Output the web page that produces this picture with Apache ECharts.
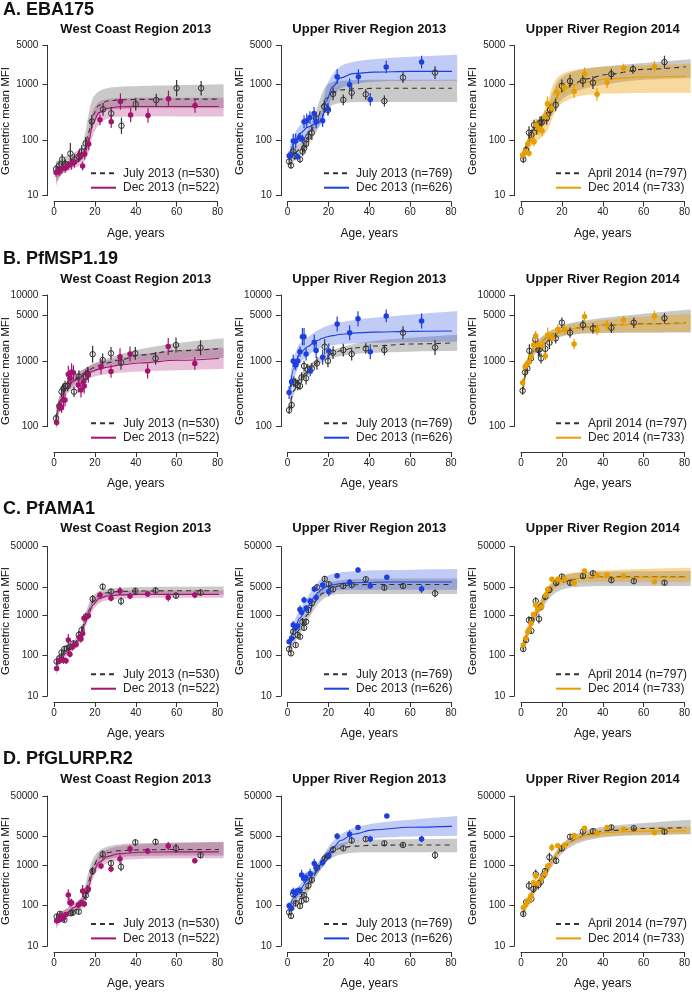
<!DOCTYPE html>
<html>
<head>
<meta charset="utf-8">
<script src="https://cdn.jsdelivr.net/npm/echarts@6/dist/echarts.min.js"></script>
<style>
  html, body { margin: 0; padding: 0; background: #fff; }
  #chart { width: 692px; height: 992px; }
</style>
</head>
<body>
<div id="chart"></div>
<script>
// ages at which the fitted curves and their intervals are read
const fitAges = [1, 3, 6, 10, 13, 15, 17, 19, 22, 26, 32, 42, 60, 83];

// points are [age, geometric mean MFI, error factor]
// ---- A. EBA175 ----
const ebaWcJulPts = [[1,30,1.2],[2.5,35,1.2],[4,45,1.25],[5.5,37,1.2],[8,57,1.55],[10,45,1.25],[12,50,1.25],[13.5,62,1.3],[15.5,87,1.3],[18.5,215,1.3],[24,355,1.3],[28,300,1.3],[33,180,1.4],[40,440,1.3],[50,520,1.3],[60,850,1.4],[72,850,1.35]];
const ebaWcJulFit = [28, 33, 40, 46, 55, 70, 140, 280, 420, 500, 525, 535, 540, 540];
const ebaWcJulLo = [18, 22, 30, 36, 42, 50, 80, 170, 280, 340, 360, 370, 370, 370];
const ebaWcJulHi = [42, 45, 52, 60, 72, 120, 300, 560, 750, 850, 900, 930, 960, 1000];
const ebaWcDecPts = [[1,26,1.2],[2.5,27,1.2],[4,31,1.2],[5.5,31,1.2],[7,35,1.2],[8.5,37,1.25],[10,40,1.25],[12.5,54,1.3],[14,34,1.2],[15,56,1.25],[17,85,1.3],[22.5,230,1.25],[28,213,1.3],[32.5,490,1.4],[37.5,280,1.35],[46,275,1.35],[56,550,1.4],[69,415,1.35]];
const ebaWcDecFit = [25, 29, 33, 38, 45, 55, 95, 200, 310, 370, 395, 400, 400, 400];
const ebaWcDecLo = [15, 22, 27, 31, 36, 42, 60, 120, 190, 240, 260, 265, 265, 265];
const ebaWcDecHi = [38, 38, 40, 46, 55, 75, 160, 330, 480, 540, 560, 570, 570, 570];

const ebaUr13JulPts = [[0.8,41,1.15],[1.7,35,1.15],[2.8,62,1.2],[3.6,52,1.2],[6.1,45,1.15],[7.4,62,1.2],[8.1,71,1.2],[9.1,85,1.2],[10.2,115,1.25],[11.9,135,1.35],[14,245,1.3],[18,400,1.3],[19.8,345,1.25],[22.3,670,1.3],[27.3,525,1.25],[31.4,705,1.3],[38.3,660,1.25],[47.4,500,1.25],[56.5,1320,1.25],[72.2,1620,1.3]];
const ebaUr13JulFit = [45, 55, 68, 110, 175, 260, 420, 560, 700, 790, 830, 845, 850, 850];
const ebaUr13JulLo = [30, 42, 52, 80, 120, 160, 260, 330, 420, 460, 475, 480, 480, 480];
const ebaUr13JulHi = [60, 72, 90, 150, 260, 430, 700, 950, 1100, 1150, 1180, 1200, 1200, 1200];
const ebaUr13DecPts = [[0.8,52,1.2],[1.7,54,1.2],[2.8,96,1.35],[4,96,1.35],[5,50,1.15],[6.1,110,1.2],[7.3,104,1.2],[8.1,213,1.3],[9.4,222,1.35],[11,253,1.3],[13,300,1.3],[14,213,1.3],[17.2,222,1.3],[19.8,360,1.3],[24.3,1370,1.35],[30.4,980,1.3],[34.7,1370,1.35],[40.5,535,1.3],[48.3,2040,1.3],[65.6,2500,1.3]];
const ebaUr13DecFit = [52, 85, 130, 170, 190, 200, 250, 500, 900, 1300, 1550, 1650, 1700, 1700];
const ebaUr13DecLo = [35, 60, 95, 130, 150, 165, 200, 320, 580, 850, 1000, 1100, 1150, 1150];
const ebaUr13DecHi = [75, 120, 180, 230, 250, 280, 400, 900, 1500, 2100, 2500, 2800, 3100, 3400];

const ebaUr14AprPts = [[1.1,45,1.15],[2.5,66,1.2],[3.9,135,1.3],[5.1,123,1.25],[6.4,185,1.25],[7.7,162,1.3],[9.3,205,1.3],[10.1,205,1.3],[12.6,245,1.3],[14.2,345,1.3],[17,425,1.3],[20,935,1.3],[24,1140,1.3],[30.3,1150,1.3],[35.2,1070,1.3],[44.2,1520,1.25],[54.8,1860,1.2],[70.2,2500,1.3]];
const ebaUr14AprFit = [45, 80, 150, 215, 280, 400, 560, 720, 880, 1050, 1250, 1500, 1850, 2100];
const ebaUr14AprLo = [35, 65, 115, 170, 210, 280, 380, 480, 600, 720, 850, 1000, 1200, 1300];
const ebaUr14AprHi = [60, 100, 190, 270, 380, 650, 950, 1250, 1500, 1700, 1900, 2100, 2400, 2800];
const ebaUr14DecPts = [[0.8,54,1.15],[2,62,1.15],[3.3,85,1.2],[3.9,58,1.15],[5.4,100,1.2],[6.4,93,1.2],[7.4,185,1.3],[8.8,162,1.3],[10.3,147,1.25],[11.8,260,1.3],[12.9,445,1.35],[15,370,1.3],[17.5,720,1.3],[21.1,870,1.25],[26,740,1.3],[31.1,1540,1.3],[37.2,660,1.3],[42.1,1070,1.25],[50.2,1950,1.2],[65.3,2080,1.25]];
const ebaUr14DecFit = [50, 75, 120, 180, 270, 400, 560, 700, 850, 980, 1100, 1250, 1350, 1400];
const ebaUr14DecLo = [40, 55, 85, 110, 150, 230, 330, 420, 500, 580, 640, 680, 700, 700];
const ebaUr14DecHi = [62, 100, 170, 270, 480, 850, 1200, 1450, 1650, 1800, 1950, 2100, 2200, 2300];

// ---- B. PfMSP1.19 ----
const mspWcJulPts = [[1,134,1.15],[2.6,206,1.2],[3.7,340,1.2],[4.6,380,1.2],[5.4,415,1.2],[6.7,415,1.2],[9.8,340,1.2],[12.2,575,1.25],[15.6,575,1.25],[16.3,645,1.25],[18.9,1260,1.35],[23.8,1030,1.25],[27.9,1300,1.25],[32.8,950,1.3],[39.8,1300,1.25],[49.7,1090,1.25],[59.7,1740,1.3],[71.7,1580,1.3]];
const mspWcJulFit = [135, 250, 400, 520, 600, 660, 720, 780, 850, 930, 1030, 1230, 1420, 1550];
const mspWcJulLo = [100, 200, 330, 440, 510, 560, 610, 660, 720, 790, 870, 960, 1050, 1100];
const mspWcJulHi = [180, 320, 480, 610, 700, 760, 830, 900, 990, 1090, 1250, 1500, 1850, 2200];
const mspWcDecPts = [[1.3,116,1.12],[2.9,206,1.2],[3.7,194,1.2],[4.6,254,1.25],[5.4,254,1.25],[7,624,1.35],[7.8,540,1.3],[8.6,680,1.35],[9.5,660,1.3],[11.9,430,1.3],[13.2,360,1.3],[14.3,480,1.3],[14.8,415,1.3],[16.8,610,1.3],[23,815,1.3],[27.9,690,1.25],[32.3,1150,1.35],[37.2,1270,1.3],[45.8,700,1.3],[55.9,1650,1.35],[68.9,915,1.25]];
const mspWcDecFit = [120, 230, 380, 500, 570, 620, 660, 700, 750, 800, 860, 930, 1020, 1100];
const mspWcDecLo = [85, 180, 300, 400, 460, 500, 540, 570, 600, 630, 660, 690, 720, 760];
const mspWcDecHi = [170, 300, 470, 620, 700, 760, 820, 880, 940, 1010, 1100, 1250, 1450, 1600];

const mspUr13JulPts = [[0.8,179,1.15],[2,213,1.15],[3.1,482,1.2],[4,455,1.2],[5,430,1.2],[6.1,415,1.15],[6.9,560,1.2],[8.1,835,1.2],[9.1,545,1.25],[9.9,745,1.2],[11.9,770,1.2],[14.4,915,1.25],[18.2,1640,1.3],[19.8,995,1.25],[22.3,1330,1.25],[27.3,1460,1.25],[31.4,1270,1.25],[38.3,1540,1.2],[47.4,1460,1.2],[56.5,2680,1.25],[72.2,1600,1.3]];
const mspUr13JulFit = [180, 350, 520, 720, 880, 990, 1100, 1180, 1300, 1420, 1560, 1680, 1800, 1880];
const mspUr13JulLo = [150, 300, 460, 640, 780, 870, 950, 1020, 1100, 1180, 1260, 1330, 1380, 1420];
const mspUr13JulHi = [220, 410, 600, 830, 1000, 1110, 1230, 1330, 1460, 1600, 1780, 2000, 2250, 2500];
const mspUr13DecPts = [[0.8,330,1.25],[2,482,1.2],[2.8,995,1.25],[4,865,1.2],[5,995,1.2],[6.1,1380,1.2],[7.3,2330,1.35],[8.1,2330,1.35],[9.1,1270,1.25],[11.1,700,1.2],[13.1,1910,1.3],[14,1430,1.3],[17.2,1130,1.3],[20.2,1410,1.3],[24.3,3630,1.3],[30.4,2680,1.3],[34.5,4350,1.3],[40.5,1380,1.3],[48.3,4800,1.25],[65.6,4030,1.3]];
const mspUr13DecFit = [320, 750, 1300, 1650, 1900, 2050, 2200, 2300, 2420, 2530, 2640, 2730, 2800, 2840];
const mspUr13DecLo = [200, 480, 900, 1200, 1400, 1500, 1580, 1650, 1720, 1780, 1830, 1880, 1920, 1950];
const mspUr13DecHi = [500, 1100, 1800, 2300, 2700, 2950, 3150, 3350, 3600, 3850, 4150, 4500, 5000, 5700];

const mspUr14AprPts = [[0.8,352,1.15],[2,670,1.2],[3.1,770,1.2],[4.1,1425,1.25],[4.9,1090,1.2],[7,2100,1.25],[8.5,1460,1.25],[9,1490,1.25],[9.8,1090,1.2],[11.9,1520,1.25],[13.9,1890,1.25],[17,2200,1.2],[20,3800,1.2],[24,2680,1.2],[30.3,3500,1.2],[35.2,3100,1.2],[44.2,3180,1.2],[55.2,3800,1.2],[70.2,4450,1.2]];
const mspUr14AprFit = [370, 850, 1400, 1950, 2300, 2480, 2620, 2760, 2920, 3100, 3300, 3500, 3650, 3750];
const mspUr14AprLo = [300, 680, 1150, 1600, 1900, 2050, 2180, 2300, 2420, 2520, 2600, 2650, 2680, 2700];
const mspUr14AprHi = [460, 1050, 1700, 2300, 2700, 2950, 3150, 3350, 3600, 3850, 4150, 4550, 5200, 6000];
const mspUr14DecPts = [[0.8,466,1.15],[2,815,1.15],[3.1,915,1.15],[3.9,960,1.15],[4.9,1150,1.15],[6.1,1740,1.2],[7.2,2380,1.2],[8.2,1740,1.2],[10.6,1690,1.2],[11.9,1180,1.15],[13.1,2460,1.3],[15.1,2200,1.25],[18,3000,1.2],[21.3,3000,1.2],[26,1800,1.2],[31.1,4700,1.2],[37.2,2940,1.2],[42.1,3500,1.2],[50.2,4170,1.15],[65.3,4800,1.2]];
const mspUr14DecFit = [400, 870, 1420, 1950, 2300, 2480, 2620, 2760, 2920, 3100, 3300, 3480, 3620, 3700];
const mspUr14DecLo = [320, 700, 1180, 1650, 1950, 2100, 2230, 2350, 2480, 2580, 2650, 2700, 2720, 2740];
const mspUr14DecHi = [480, 1050, 1650, 2250, 2650, 2880, 3050, 3220, 3420, 3650, 3900, 4250, 4700, 5200];

// ---- C. PfAMA1 ----
const amaWcJulPts = [[1.3,71,1.15],[2.6,86,1.15],[3.7,120,1.15],[5.1,146,1.15],[6.2,152,1.15],[7.8,166,1.2],[9.5,200,1.2],[12.1,325,1.25],[13.5,430,1.25],[15.6,925,1.25],[18.9,2530,1.25],[23.8,5100,1.2],[27.9,3850,1.2],[32.8,2230,1.25],[39.8,4000,1.2],[49.7,4100,1.2],[59.7,3070,1.2],[71.7,3650,1.2]];
const amaWcJulFit = [65, 95, 140, 200, 330, 700, 1300, 2200, 3100, 3600, 3900, 4000, 4050, 4050];
const amaWcJulLo = [45, 75, 115, 165, 260, 520, 950, 1600, 2300, 2800, 3100, 3200, 3250, 3250];
const amaWcJulHi = [90, 120, 170, 245, 430, 1000, 1900, 3000, 4000, 4500, 4800, 5000, 5100, 5200];
const amaWcDecPts = [[1.3,48,1.15],[2.6,74,1.2],[3.4,78,1.2],[4.6,78,1.25],[5.9,75,1.2],[7,245,1.4],[7.8,108,1.2],[9.1,167,1.25],[10.8,190,1.2],[12.4,280,1.2],[13.2,260,1.25],[14,355,1.25],[14.7,840,1.25],[16.8,970,1.2],[22.5,3170,1.2],[27.9,2630,1.2],[32.3,4000,1.25],[37.2,3000,1.2],[45.8,3380,1.2],[55.9,2750,1.25],[68.9,3170,1.2]];
const amaWcDecFit = [50, 80, 115, 175, 280, 600, 1100, 1800, 2600, 3000, 3200, 3300, 3300, 3300];
const amaWcDecLo = [32, 62, 95, 145, 220, 450, 800, 1300, 1950, 2350, 2550, 2650, 2700, 2700];
const amaWcDecHi = [72, 100, 140, 210, 360, 820, 1500, 2400, 3400, 3800, 4000, 4100, 4100, 4100];

const amaUr13JulPts = [[0.8,146,1.15],[1.7,114,1.15],[2.8,390,1.2],[4,183,1.15],[5,325,1.2],[6.1,295,1.15],[7.3,690,1.25],[8.1,490,1.2],[9.1,690,1.2],[10.2,1350,1.2],[11.9,1990,1.2],[14.4,4900,1.2],[18.2,7900,1.2],[20.2,5900,1.2],[22.3,4400,1.2],[27.3,5300,1.15],[31.4,5600,1.15],[38.3,7800,1.15],[47.4,4800,1.15],[56.5,5300,1.15],[72.2,3500,1.25]];
const amaUr13JulFit = [150, 260, 450, 1050, 2000, 2800, 3500, 4100, 5000, 5400, 5700, 5800, 5800, 5800];
const amaUr13JulLo = [100, 190, 330, 750, 1400, 1900, 2400, 2850, 3200, 3300, 3350, 3350, 3350, 3350];
const amaUr13JulHi = [230, 350, 600, 1500, 2900, 4000, 5000, 5800, 6800, 7400, 7800, 8000, 8100, 8200];
const amaUr13DecPts = [[0.8,222,1.15],[2,270,1.15],[2.8,575,1.25],[4,490,1.2],[5,540,1.2],[6.1,1400,1.25],[6.9,1180,1.2],[8.1,2400,1.2],[9.1,1490,1.2],[11.1,2250,1.2],[13.1,4450,1.2],[14,2740,1.2],[17.2,5600,1.2],[20.2,3830,1.3],[24.3,9600,1.15],[30.4,6600,1.2],[34.5,13300,1.15],[40.5,5400,1.2],[48.6,8700,1.15],[65.6,4450,1.25]];
const amaUr13DecFit = [200, 400, 850, 1700, 2800, 3700, 4500, 5100, 5700, 6100, 6400, 6600, 6700, 6700];
const amaUr13DecLo = [130, 280, 600, 1200, 1950, 2500, 3100, 3600, 4000, 4200, 4300, 4300, 4300, 4300];
const amaUr13DecHi = [300, 650, 1400, 2900, 5000, 6800, 8200, 9300, 10500, 11500, 12300, 13000, 13500, 14000];

const amaUr14AprPts = [[1.1,146,1.15],[2.5,245,1.2],[3.9,760,1.25],[5.1,760,1.2],[5,410,1.2],[7.2,2250,1.25],[8.8,810,1.3],[9.8,1630,1.25],[11.9,2870,1.2],[13.9,4230,1.2],[17.2,6400,1.15],[20,9100,1.15],[24,6400,1.15],[30.3,9400,1.15],[35.2,11000,1.15],[44.2,7400,1.15],[55.2,7000,1.15],[70.2,6400,1.15]];
const amaUr14AprFit = [150, 330, 800, 1900, 3300, 4400, 5400, 6200, 7000, 7900, 8500, 8900, 9000, 9000];
const amaUr14AprLo = [110, 250, 600, 1400, 2300, 3000, 3600, 4100, 4600, 5000, 5200, 5300, 5300, 5300];
const amaUr14AprHi = [200, 430, 1050, 2600, 4600, 6200, 7600, 8800, 10000, 11000, 11600, 12000, 12300, 12500];
const amaUr14DecPts = [[1.1,183,1.15],[2.3,270,1.15],[3.3,390,1.15],[4.1,455,1.15],[4.9,630,1.2],[6.1,1050,1.15],[7.2,1800,1.2],[8.2,1400,1.2],[10.1,1630,1.2],[12.3,3170,1.2],[13.1,4370,1.2],[15.1,7800,1.15],[18,7800,1.15],[21.3,7800,1.15],[26,6200,1.15],[31.1,12500,1.15],[37.2,10000,1.15],[42.1,10000,1.15],[50.2,9400,1.12],[65.3,6800,1.15]];
const amaUr14DecFit = [170, 350, 850, 2050, 3700, 5000, 6100, 6900, 7600, 8100, 8500, 8700, 8800, 8800];
const amaUr14DecLo = [130, 280, 680, 1600, 2800, 3800, 4700, 5300, 5900, 6300, 6600, 6700, 6700, 6700];
const amaUr14DecHi = [220, 450, 1100, 2700, 5000, 6800, 8300, 9500, 10700, 11500, 12200, 13000, 14000, 15000];

// ---- D. PfGLURP.R2 ----
const glurpWcJulPts = [[1.3,53,1.15],[2.9,62,1.15],[4.2,48,1.15],[5.1,44,1.15],[8.3,64,1.15],[9.1,66,1.15],[12.1,70,1.15],[15.6,178,1.3],[16.3,240,1.25],[18.9,700,1.25],[23.8,1820,1.25],[27.9,1100,1.2],[32.8,900,1.3],[39.8,3600,1.2],[49.7,3700,1.2],[59.7,2560,1.3],[71.7,1740,1.2]];
const glurpWcJulFit = [48, 55, 65, 75, 100, 160, 400, 900, 1500, 2000, 2250, 2350, 2400, 2400];
const glurpWcJulLo = [32, 42, 52, 60, 75, 110, 250, 580, 1000, 1350, 1550, 1650, 1700, 1700];
const glurpWcJulHi = [65, 70, 80, 95, 140, 280, 700, 1400, 2200, 2800, 3200, 3400, 3500, 3600];
const glurpWcDecPts = [[1.3,42,1.15],[2.6,44,1.15],[3.7,55,1.15],[4.6,48,1.15],[5.9,60,1.15],[7,180,1.4],[7.8,117,1.3],[8.6,117,1.25],[11.9,102,1.2],[13.2,117,1.2],[14,227,1.4],[14.8,108,1.2],[16.8,254,1.2],[23,935,1.2],[27.9,790,1.2],[32.3,1390,1.3],[37.2,2450,1.25],[45.8,2190,1.2],[55.9,2920,1.25],[68.9,1260,1.15]];
const glurpWcDecFit = [42, 50, 65, 90, 115, 150, 300, 650, 1150, 1600, 1900, 2050, 2100, 2100];
const glurpWcDecLo = [26, 38, 50, 70, 90, 110, 210, 450, 800, 1100, 1300, 1400, 1450, 1450];
const glurpWcDecHi = [62, 68, 85, 115, 150, 220, 480, 1000, 1750, 2400, 2900, 3200, 3500, 3700];

const glurpUr13JulPts = [[0.8,68,1.15],[1.7,55,1.15],[2.8,190,1.2],[4,113,1.2],[6.1,97,1.15],[6.9,129,1.2],[8.1,180,1.2],[9.1,141,1.2],[10.2,307,1.25],[11.9,425,1.2],[14.4,850,1.25],[18.2,1440,1.2],[19.8,1660,1.2],[22.3,2400,1.2],[27.3,2560,1.15],[31.4,4000,1.2],[38.3,4350,1.15],[47.4,3400,1.15],[56.5,3100,1.15],[72.2,1740,1.25]];
const glurpUr13JulFit = [70, 110, 160, 280, 550, 850, 1200, 1600, 2100, 2600, 2900, 3050, 3100, 3100];
const glurpUr13JulLo = [50, 85, 125, 210, 400, 620, 880, 1150, 1500, 1800, 2000, 2050, 2050, 2050];
const glurpUr13JulHi = [95, 140, 210, 380, 750, 1150, 1650, 2150, 2800, 3400, 3900, 4200, 4300, 4400];
const glurpUr13DecPts = [[0.8,98,1.2],[2,85,1.15],[2.8,218,1.25],[4,200,1.3],[5,232,1.2],[6.1,232,1.25],[6.9,560,1.35],[8.1,465,1.3],[9.1,490,1.3],[11.1,615,1.3],[13.1,1090,1.3],[14,850,1.3],[17.2,1150,1.25],[20.2,1690,1.2],[24.3,5100,1.2],[30.4,5700,1.25],[34.5,8400,1.15],[40.5,4350,1.2],[48.6,16000,1.1],[65.6,4350,1.2]];
const glurpUr13DecFit = [85, 150, 250, 420, 620, 830, 1150, 1650, 2600, 4000, 5700, 7300, 8500, 9000];
const glurpUr13DecLo = [60, 110, 190, 330, 480, 630, 850, 1200, 1800, 2700, 3700, 4500, 5000, 5200];
const glurpUr13DecHi = [120, 200, 330, 540, 800, 1100, 1550, 2300, 3700, 5600, 8000, 10500, 13000, 16000];

const glurpUr14AprPts = [[1.1,62,1.15],[2.5,120,1.2],[3.9,307,1.3],[5.1,145,1.25],[6.1,254,1.25],[7.2,590,1.3],[8.5,320,1.3],[9.7,385,1.25],[11,560,1.25],[11.8,705,1.2],[13.9,1540,1.3],[17.2,1260,1.2],[20,2560,1.2],[24,4950,1.15],[30.3,6600,1.15],[35.2,6800,1.15],[44.2,8400,1.15],[55.2,8000,1.12],[70.2,6600,1.15]];
const glurpUr14AprFit = [60, 115, 230, 450, 800, 1150, 1600, 2200, 3100, 4200, 5600, 7000, 7900, 8400];
const glurpUr14AprLo = [45, 90, 180, 360, 620, 880, 1200, 1650, 2300, 3100, 4000, 4900, 5400, 5700];
const glurpUr14AprHi = [80, 150, 290, 570, 1000, 1500, 2100, 2900, 4000, 5500, 7300, 9000, 10800, 13000];
const glurpUr14DecPts = [[1.1,88,1.12],[2.3,102,1.12],[3.3,131,1.15],[4.1,128,1.15],[4.9,170,1.2],[6.1,363,1.2],[7.2,535,1.25],[8.2,350,1.2],[10.1,465,1.2],[11.8,615,1.2],[13.1,935,1.2],[15.1,2700,1.25],[18,2950,1.15],[21.3,3060,1.15],[26,5300,1.15],[31.1,8000,1.15],[37.2,6000,1.12],[42.1,8400,1.12],[50.2,7600,1.1],[65.3,6300,1.2]];
const glurpUr14DecFit = [85, 125, 220, 420, 750, 1200, 1750, 2400, 3300, 4300, 5400, 6300, 6800, 7000];
const glurpUr14DecLo = [65, 100, 180, 350, 630, 1000, 1450, 1950, 2700, 3500, 4400, 5100, 5600, 5800];
const glurpUr14DecHi = [110, 160, 270, 500, 900, 1450, 2100, 2900, 4000, 5300, 6700, 7900, 8600, 9000];

// labels and ticks
const antigenLabels = ['A. EBA175', 'B. PfMSP1.19', 'C. PfAMA1', 'D. PfGLURP.R2'];
const regionTitles = ['West Coast Region 2013', 'Upper River Region 2013', 'Upper River Region 2014'];
const legendLabels = [
  ['July 2013 (n=530)', 'Dec 2013 (n=522)'],
  ['July 2013 (n=769)', 'Dec 2013 (n=626)'],
  ['April 2014 (n=797)', 'Dec 2014 (n=733)']
];
const rowTicks = [
  [10, 100, 1000, 5000],
  [100, 1000, 5000, 10000],
  [10, 100, 1000, 5000, 50000],
  [10, 100, 1000, 5000, 50000]
];

// layout (pixels)
const FONT = '"Liberation Sans", Arial, Helvetica, sans-serif';
const colLeft = [54, 287.5, 521];
const colWidth = 163.5;
const legendLeft = [90, 323, 555];
const rows = [
  {top: 45.3, bottom: 195.7, axisY: 201.7, labelY: 10, titleY: 29, legendY: 167.3, yTitleY: 121},
  {top: 295, bottom: 426.7, axisY: 452, labelY: 259, titleY: 279, legendY: 417.3, yTitleY: 371},
  {top: 546.7, bottom: 696, axisY: 702, labelY: 509, titleY: 528.5, legendY: 668.3, yTitleY: 621},
  {top: 796, bottom: 946, axisY: 952, labelY: 759, titleY: 779, legendY: 918, yTitleY: 871}
];

const colColors = ['#a3146e', '#1d3fdc', '#e69f00'];
const colBands = ['rgba(170,25,115,0.28)', 'rgba(45,85,225,0.3)', 'rgba(235,160,10,0.4)'];
const greyColor = '#333333';
const greyBand = 'rgba(105,105,105,0.36)';

const S = (pts, fit, lo, hi) => ({pts, fit, lo, hi});
const panels = [
  [[S(ebaWcJulPts, ebaWcJulFit, ebaWcJulLo, ebaWcJulHi), S(ebaWcDecPts, ebaWcDecFit, ebaWcDecLo, ebaWcDecHi)],
   [S(ebaUr13JulPts, ebaUr13JulFit, ebaUr13JulLo, ebaUr13JulHi), S(ebaUr13DecPts, ebaUr13DecFit, ebaUr13DecLo, ebaUr13DecHi)],
   [S(ebaUr14AprPts, ebaUr14AprFit, ebaUr14AprLo, ebaUr14AprHi), S(ebaUr14DecPts, ebaUr14DecFit, ebaUr14DecLo, ebaUr14DecHi)]],
  [[S(mspWcJulPts, mspWcJulFit, mspWcJulLo, mspWcJulHi), S(mspWcDecPts, mspWcDecFit, mspWcDecLo, mspWcDecHi)],
   [S(mspUr13JulPts, mspUr13JulFit, mspUr13JulLo, mspUr13JulHi), S(mspUr13DecPts, mspUr13DecFit, mspUr13DecLo, mspUr13DecHi)],
   [S(mspUr14AprPts, mspUr14AprFit, mspUr14AprLo, mspUr14AprHi), S(mspUr14DecPts, mspUr14DecFit, mspUr14DecLo, mspUr14DecHi)]],
  [[S(amaWcJulPts, amaWcJulFit, amaWcJulLo, amaWcJulHi), S(amaWcDecPts, amaWcDecFit, amaWcDecLo, amaWcDecHi)],
   [S(amaUr13JulPts, amaUr13JulFit, amaUr13JulLo, amaUr13JulHi), S(amaUr13DecPts, amaUr13DecFit, amaUr13DecLo, amaUr13DecHi)],
   [S(amaUr14AprPts, amaUr14AprFit, amaUr14AprLo, amaUr14AprHi), S(amaUr14DecPts, amaUr14DecFit, amaUr14DecLo, amaUr14DecHi)]],
  [[S(glurpWcJulPts, glurpWcJulFit, glurpWcJulLo, glurpWcJulHi), S(glurpWcDecPts, glurpWcDecFit, glurpWcDecLo, glurpWcDecHi)],
   [S(glurpUr13JulPts, glurpUr13JulFit, glurpUr13JulLo, glurpUr13JulHi), S(glurpUr13DecPts, glurpUr13DecFit, glurpUr13DecLo, glurpUr13DecHi)],
   [S(glurpUr14AprPts, glurpUr14AprFit, glurpUr14AprLo, glurpUr14AprHi), S(glurpUr14DecPts, glurpUr14DecFit, glurpUr14DecLo, glurpUr14DecHi)]]
];

const log = Math.log10;

// interval band: smoothed polygon; end points doubled so the two ends stay square
function bandSeries(gi, s, fill) {
  const upper = fitAges.map((a, i) => [a, log(s.hi[i])]);
  const lower = fitAges.map((a, i) => [a, log(s.lo[i])]).reverse();
  const n = upper.length;
  const ring = [upper[0]].concat(upper, [upper[n - 1], lower[0]], lower, [lower[n - 1]]);
  return {
    type: 'custom', xAxisIndex: gi, yAxisIndex: gi, silent: true, z: 1,
    data: [[40, upper[0][1]]],
    renderItem: (params, api) => ({
      type: 'polygon',
      shape: {points: ring.map(p => api.coord(p)), smooth: 0.35},
      style: {fill: fill}
    })
  };
}

function fitSeries(gi, s, name, color, dashed) {
  return {
    type: 'line', name: name, xAxisIndex: gi, yAxisIndex: gi,
    data: fitAges.map((a, i) => [a, log(s.fit[i])]),
    symbol: 'none', smooth: 0.35, smoothMonotone: 'x', clip: false, silent: true, z: 3,
    lineStyle: {color: color, width: 1.1, type: dashed ? [5, 4] : 'solid'},
    itemStyle: {color: color}
  };
}

function errSeries(gi, s, color) {
  return {
    type: 'custom', xAxisIndex: gi, yAxisIndex: gi, silent: true, z: 4,
    data: s.pts.map(p => [p[0], log(p[1] / p[2]), log(p[1] * p[2])]),
    encode: {x: 0, y: [1, 2]},
    renderItem: (params, api) => {
      const a = api.coord([api.value(0), api.value(1)]);
      const b = api.coord([api.value(0), api.value(2)]);
      return {type: 'line', shape: {x1: a[0], y1: a[1], x2: b[0], y2: b[1]}, style: {stroke: color, lineWidth: 1.2}};
    }
  };
}

function pointSeries(gi, s, color, open) {
  return {
    type: 'scatter', xAxisIndex: gi, yAxisIndex: gi, silent: true, z: 5,
    data: s.pts.map(p => [p[0], log(p[1])]),
    symbol: 'circle', symbolSize: 5.5,
    itemStyle: open
      ? {color: 'rgba(255,255,255,0)', borderColor: color, borderWidth: 1, opacity: 1}
      : {color: color, borderWidth: 0, opacity: 1}
  };
}

function txt(x, y, text, size, weight, rot, align) {
  return {
    type: 'text', x: x, y: y, rotation: rot || 0, silent: true,
    style: {
      text: text, fill: '#111', font: weight + ' ' + size + 'px ' + FONT,
      align: align || 'center', verticalAlign: 'middle',
      textAlign: align || 'center', textVerticalAlign: 'middle'
    }
  };
}

const grids = [], xAxes = [], yAxes = [], series = [], legends = [], graphics = [];

rows.forEach((r, ri) => {
  const ticks = rowTicks[ri].map(log);
  graphics.push(txt(3, r.labelY, antigenLabels[ri], 18, 'bold', 0, 'left'));
  for (let ci = 0; ci < 3; ci++) {
    const gi = grids.length;
    grids.push({left: colLeft[ci], top: r.top, width: colWidth, height: r.bottom - r.top,
      containLabel: false, outerBoundsMode: 'none'});
    xAxes.push({
      gridIndex: gi, type: 'value', min: 0, max: 80, interval: 20,
      offset: r.axisY - r.bottom,
      axisLine: {show: true, onZero: false, lineStyle: {color: greyColor, width: 1}},
      axisTick: {show: true, length: 5, lineStyle: {color: greyColor, width: 1}},
      axisLabel: {show: true, margin: 6, fontSize: 10, color: '#222', fontFamily: FONT},
      splitLine: {show: false}
    });
    yAxes.push({
      gridIndex: gi, type: 'value', min: ticks[0], max: ticks[ticks.length - 1],
      offset: 6.6,
      axisLine: {show: true, onZero: false, lineStyle: {color: greyColor, width: 1}},
      axisTick: {show: true, length: 5, customValues: ticks, lineStyle: {color: greyColor, width: 1}},
      axisLabel: {show: true, customValues: ticks, margin: 9, fontSize: 10, color: '#222', fontFamily: FONT,
        formatter: v => String(Math.round(Math.pow(10, v)))},
      splitLine: {show: false}
    });

    const [grey, col] = panels[ri][ci];
    series.push(bandSeries(gi, grey, greyBand));
    series.push(bandSeries(gi, col, colBands[ci]));
    series.push(fitSeries(gi, grey, legendLabels[ci][0], greyColor, true));
    series.push(fitSeries(gi, col, legendLabels[ci][1], colColors[ci], false));
    series.push(errSeries(gi, grey, greyColor));
    series.push(errSeries(gi, col, colColors[ci]));
    series.push(pointSeries(gi, grey, greyColor, true));
    series.push(pointSeries(gi, col, colColors[ci], false));

    legends.push({
      orient: 'vertical', left: legendLeft[ci], top: r.legendY, padding: 0,
      itemGap: 2.4, itemWidth: 25, itemHeight: 12, selectedMode: false,
      data: legendLabels[ci],
      textStyle: {fontSize: 12, color: '#222', fontFamily: FONT, padding: [0, 0, 0, 2]},
      itemStyle: {color: 'rgba(0,0,0,0)', borderWidth: 0, opacity: 0}
    });

    const cx = colLeft[ci] + colWidth / 2;
    graphics.push(txt(cx, r.titleY, regionTitles[ci], 13, 'bold'));
    graphics.push(txt(cx, r.axisY + 31.5, 'Age, years', 12, 'normal'));
    graphics.push(txt(colLeft[ci] - 48, r.yTitleY, 'Geometric mean MFI', 11.5, 'normal', Math.PI / 2));
  }
});

const chart = echarts.init(document.getElementById('chart'));
chart.setOption({
  animation: false,
  backgroundColor: '#fff',
  textStyle: {fontFamily: FONT},
  grid: grids,
  xAxis: xAxes,
  yAxis: yAxes,
  legend: legends,
  graphic: {elements: graphics},
  series: series
});
</script>
</body>
</html>
